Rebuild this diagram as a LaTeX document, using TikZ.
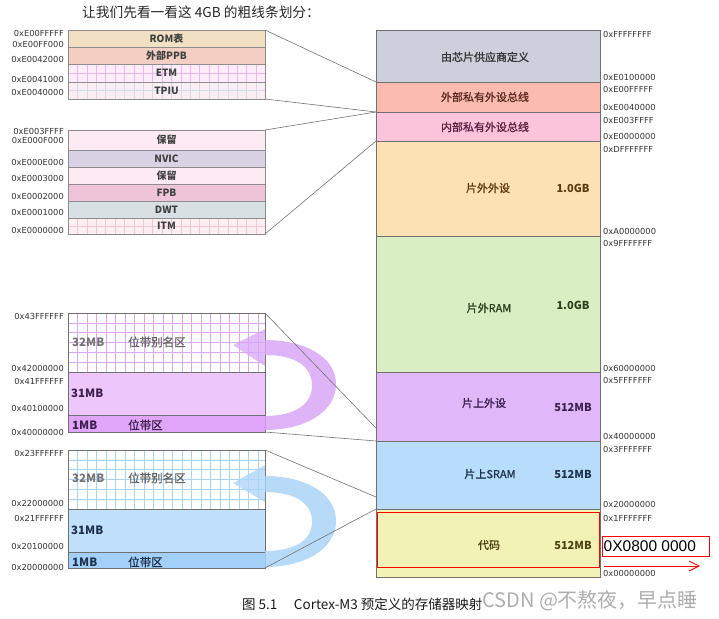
\documentclass[tikz,border=0pt]{standalone}
\usepackage{fontspec}
\setmainfont{Noto Sans CJK SC}
\newfontfamily\medfont{Noto Sans CJK SC}[FakeBold=1.2]
\newfontfamily\addrfont{DejaVu Sans}
\newfontfamily\redfont{Liberation Sans}
\usetikzlibrary{arrows.meta}
\definecolor{cVend}{HTML}{CDD0DC}
\definecolor{cExt}{HTML}{FBBCAF}
\definecolor{cInt}{HTML}{FCC4DA}
\definecolor{cOffP}{HTML}{FCE1B4}
\definecolor{cRam}{HTML}{D9EFC3}
\definecolor{cOnP}{HTML}{E0B8F9}
\definecolor{cSram}{HTML}{B8DCFB}
\definecolor{cCode}{HTML}{F2F2B7}
\definecolor{cRom}{HTML}{F1E0C3}
\definecolor{cEppb}{HTML}{F3CEC3}
\definecolor{cEtm}{HTML}{FDEDF8}
\definecolor{cEtmG}{HTML}{EDB8EE}
\definecolor{cTpiu}{HTML}{FBEEF2}
\definecolor{cTpiuG}{HTML}{D3DAE8}
\definecolor{cRes}{HTML}{FDEAF3}
\definecolor{cNvic}{HTML}{D8D2E4}
\definecolor{cFpb}{HTML}{EFC4D8}
\definecolor{cDwt}{HTML}{D8E0E4}
\definecolor{cItm}{HTML}{FDEEF2}
\definecolor{cItmG}{HTML}{EFC6D6}
\definecolor{cPG}{HTML}{DDA8F7}
\definecolor{cP31}{HTML}{EDC6FC}
\definecolor{cP1}{HTML}{E0A5F8}
\definecolor{cPArr}{HTML}{D9A6F7}
\definecolor{cBG}{HTML}{A8D4F8}
\definecolor{cB31}{HTML}{C0E0FC}
\definecolor{cB1}{HTML}{A3D0F8}
\definecolor{cBArr}{HTML}{ABD4F8}
\definecolor{cLine}{HTML}{707070}
\newcommand\gridfill[7]{%
  \begin{scope}
    \clip (#1,#2) rectangle (#3,#4);
    \foreach \i in {1,...,30} {\draw[#7, line width=0.6pt] ({#1+\i*#5},#2) -- ({#1+\i*#5},#4);}
    \foreach \j in {1,...,10} {\draw[#7, line width=0.6pt] (#1,{#2+\j*#6}) -- (#3,{#2+\j*#6});}
  \end{scope}}
\begin{document}
\begin{tikzpicture}[x=1pt,y=-1pt,
  reg/.style={draw=cLine, line width=0.6pt, anchor=north west, inner sep=0pt, outer sep=0pt},
  lbox/.style={draw=cLine!80, line width=0.6pt, anchor=north west, inner sep=0pt, outer sep=0pt, minimum width=197},
  ltxt/.style={font=\bfseries\fontsize{10}{10}\selectfont, text=black!75},
  addrR/.style={anchor=west, inner sep=0pt, font=\addrfont\fontsize{8.3}{8.3}\selectfont, text=black!80},
  addrL/.style={anchor=east, inner sep=0pt, font=\addrfont\fontsize{8.3}{8.3}\selectfont, text=black!80},
  mtxt/.style={font=\medfont\fontsize{11}{11}\selectfont},
  mbold/.style={font=\bfseries\fontsize{11}{11}\selectfont},
  conn/.style={draw=black!55, line width=0.6pt}]
\useasboundingbox (0,0) rectangle (719,618);

% title
\node[anchor=west, inner sep=0pt, font=\fontsize{13.7}{13.7}\selectfont, text=black!85] (title) at (82,12) {让我们先看一看这 4GB 的粗线条划分：};

% ---------- main column ----------
\node[reg, fill=cVend, minimum width=224, minimum height=52] (vend) at (376,30) {};
\node[reg, fill=cExt, minimum width=224, minimum height=30] (ext) at (376,82) {};
\node[reg, fill=cInt, minimum width=224, minimum height=29] (int) at (376,112) {};
\node[reg, fill=cOffP, minimum width=224, minimum height=95] (offp) at (376,141) {};
\node[reg, fill=cRam, minimum width=224, minimum height=136] (ram) at (376,236) {};
\node[reg, fill=cOnP, minimum width=224, minimum height=69] (onp) at (376,372) {};
\node[reg, fill=cSram, minimum width=224, minimum height=68] (sram) at (376,441) {};
\node[reg, fill=cCode, minimum width=224, minimum height=68] (code) at (376,509) {};
\node[draw=red, line width=1pt, anchor=north west, inner sep=0pt, minimum width=222, minimum height=55] (redbox) at (377,512) {};

\node[mtxt, text=black!80] (tvend) at (485,57) {由芯片供应商定义};
\node[mtxt, text={rgb,255:red,92;green,43;blue,34}] (text) at (485,97) {外部私有外设总线};
\node[mtxt, text={rgb,255:red,90;green,35;blue,64}] (tint) at (485,127) {内部私有外设总线};
\node[mtxt, text={rgb,255:red,90;green,59;blue,16}] (toffp) at (488,188) {片外外设};
\node[mbold, text={rgb,255:red,90;green,59;blue,16}] (soffp) at (573,188) {1.0GB};
\node[mtxt, text={rgb,255:red,44;green,63;blue,26}] (tram) at (489,308) {片外RAM};
\node[mbold, text={rgb,255:red,44;green,63;blue,26}] (sram2) at (573,305) {1.0GB};
\node[mtxt, text={rgb,255:red,60;green,31;blue,79}] (tonp) at (484,403) {片上外设};
\node[mbold, text={rgb,255:red,60;green,31;blue,79}] (sonp) at (573,407) {512MB};
\node[mtxt, text={rgb,255:red,29;green,52;blue,78}] (tsram) at (490,474) {片上SRAM};
\node[mbold, text={rgb,255:red,29;green,52;blue,78}] (ssram) at (573,474) {512MB};
\node[mtxt, text={rgb,255:red,75;green,67;blue,16}] (tcode) at (489,545) {代码};
\node[mbold, text={rgb,255:red,75;green,67;blue,16}] (scode) at (573,545) {512MB};

% right addresses
\node[addrR] (r1) at (603,34) {0xFFFFFFFF};
\node[addrR] (r2) at (603,77) {0xE0100000};
\node[addrR] (r3) at (603,89) {0xE00FFFFF};
\node[addrR] (r4) at (603,107) {0xE0040000};
\node[addrR] (r5) at (603,120) {0xE003FFFF};
\node[addrR] (r6) at (603,136) {0xE0000000};
\node[addrR] (r7) at (603,149) {0xDFFFFFFF};
\node[addrR] (r8) at (603,231) {0xA0000000};
\node[addrR] (r9) at (603,243) {0x9FFFFFFF};
\node[addrR] (r10) at (603,368) {0x60000000};
\node[addrR] (r11) at (603,380) {0x5FFFFFFF};
\node[addrR] (r12) at (603,436) {0x40000000};
\node[addrR] (r13) at (603,449) {0x3FFFFFFF};
\node[addrR] (r14) at (603,504) {0x20000000};
\node[addrR] (r15) at (603,518) {0x1FFFFFFF};
\node[addrR] (r16) at (603,573) {0x00000000};

\node[draw=red, line width=1pt, anchor=north west, inner sep=0pt, minimum width=107, minimum height=20] (addrbox) at (602,536) {};
\node[anchor=west, inner sep=0pt, font=\redfont\fontsize{15.5}{15.5}\selectfont, text=black] (addrtxt) at (603.5,546) {0X0800 0000};
\coordinate (arrs) at (604,566);
\coordinate (arre) at (700,566);
\draw[red, line width=0.8pt, -{Straight Barb[length=10pt,width=10pt]}] (arrs) -- (arre);

% ---------- left group 1 ----------
\node[lbox, fill=cRom, minimum height=17] (rom) at (68,30) {};
\node[lbox, fill=cEppb, minimum height=17] (eppb) at (68,47) {};
\node[lbox, fill=cEtm, minimum height=18] (etm) at (68,64) {};
\node[lbox, fill=cTpiu, minimum height=17] (tpiu) at (68,82) {};
\gridfill{68}{64}{265}{82}{9.4}{9}{cEtmG}
\gridfill{68}{82}{265}{99}{9.4}{8.5}{cTpiuG}
\draw[cLine!80, line width=0.6pt] (etm.north west) rectangle (tpiu.south east);
\draw[cLine!80, line width=0.6pt] (tpiu.north west) -- (tpiu.north east);
\node[ltxt] (trom) at (166.5,38.5) {ROM表};
\node[ltxt] (teppb) at (166.5,55.5) {外部PPB};
\node[ltxt] (tetm) at (166.5,73) {ETM};
\node[ltxt] (ttpiu) at (166.5,90.5) {TPIU};
\node[addrL] (l1) at (64,33) {0xE00FFFFF};
\node[addrL] (l2) at (64,44) {0xE00FF000};
\node[addrL] (l3) at (64,59) {0xE0042000};
\node[addrL] (l4) at (64,79) {0xE0041000};
\node[addrL] (l5) at (64,92) {0xE0040000};

% ---------- left group 2 ----------
\node[lbox, fill=cRes, minimum height=20] (res1) at (68,130) {};
\node[lbox, fill=cNvic, minimum height=17] (nvic) at (68,150) {};
\node[lbox, fill=cRes, minimum height=17] (res2) at (68,167) {};
\node[lbox, fill=cFpb, minimum height=17] (fpb) at (68,184) {};
\node[lbox, fill=cDwt, minimum height=17] (dwt) at (68,201) {};
\node[lbox, fill=cItm, minimum height=16] (itm) at (68,218) {};
\gridfill{68}{218}{265}{234}{9.4}{8}{cItmG}
\draw[cLine!80, line width=0.6pt] (itm.north west) rectangle (itm.south east);
\node[ltxt] (tres1) at (166.5,140) {保留};
\node[ltxt] (tnvic) at (166.5,158.5) {NVIC};
\node[ltxt] (tres2) at (166.5,175.5) {保留};
\node[ltxt] (tfpb) at (166.5,192.5) {FPB};
\node[ltxt] (tdwt) at (166.5,209.5) {DWT};
\node[ltxt] (titm) at (166.5,226) {ITM};
\node[addrL] (l6) at (64,131) {0xE003FFFF};
\node[addrL] (l7) at (64,140) {0xE000F000};
\node[addrL] (l8) at (64,162) {0xE000E000};
\node[addrL] (l9) at (64,178) {0xE0003000};
\node[addrL] (l10) at (64,196) {0xE0002000};
\node[addrL] (l11) at (64,212) {0xE0001000};
\node[addrL] (l12) at (64,230) {0xE0000000};

% ---------- purple bit-band ----------
\node[lbox, fill=white, minimum height=59] (palias) at (68,313) {};
\gridfill{68}{313}{265}{372}{9.5}{9.8}{cPG}
\draw[cLine, line width=0.6pt] (palias.north west) rectangle (palias.south east);
\node[lbox, draw=cLine, fill=cP31, minimum height=43] (p31) at (68,372) {};
\node[lbox, draw=cLine, fill=cP1, minimum height=17] (p1) at (68,415) {};
\node[anchor=west, inner sep=0pt, font=\bfseries\fontsize{11.5}{11.5}\selectfont, text=black!55] (pt32) at (72,342) {32MB};
\node[anchor=west, inner sep=0pt, font=\medfont\fontsize{11.5}{11.5}\selectfont, text=black!60] (ptal) at (128,342) {位带别名区};
\node[anchor=west, inner sep=0pt, font=\bfseries\fontsize{11.5}{11.5}\selectfont, text={rgb,255:red,60;green,30;blue,75}] (pt31) at (71,393) {31MB};
\node[anchor=west, inner sep=0pt, font=\bfseries\fontsize{11.5}{11.5}\selectfont, text={rgb,255:red,60;green,30;blue,75}] (pt1) at (72,425) {1MB};
\node[anchor=west, inner sep=0pt, font=\medfont\fontsize{11.5}{11.5}\selectfont, text={rgb,255:red,60;green,30;blue,75}] (ptbb) at (128,425) {位带区};
\node[addrL] (l13) at (64,316) {0x43FFFFFF};
\node[addrL] (l14) at (64,368) {0x42000000};
\node[addrL] (l15) at (64,381) {0x41FFFFFF};
\node[addrL] (l16) at (64,408) {0x40100000};
\node[addrL] (l17) at (64,432) {0x40000000};
% purple arrow
\fill[cPArr, opacity=0.85] (265,340) .. controls (305,340) and (336,357) .. (336,384)
  .. controls (336,412) and (305,430) .. (265,430) -- (265,416)
  .. controls (295,416) and (312,404) .. (312,386)
  .. controls (312,366) and (295,355) .. (265,355) -- cycle;
\fill[cPArr, opacity=0.75] (233,345) -- (265,329) -- (265,366) -- cycle;

% ---------- blue bit-band ----------
\node[lbox, fill=white, minimum height=59] (balias) at (68,450) {};
\gridfill{68}{450}{265}{509}{9.5}{9.8}{cBG}
\draw[cLine, line width=0.6pt] (balias.north west) rectangle (balias.south east);
\node[lbox, draw=cLine, fill=cB31, minimum height=43] (b31) at (68,509) {};
\node[lbox, draw=cLine, fill=cB1, minimum height=16] (b1) at (68,552) {};
\node[anchor=west, inner sep=0pt, font=\bfseries\fontsize{11.5}{11.5}\selectfont, text=black!55] (bt32) at (72,478) {32MB};
\node[anchor=west, inner sep=0pt, font=\medfont\fontsize{11.5}{11.5}\selectfont, text=black!60] (btal) at (128,478) {位带别名区};
\node[anchor=west, inner sep=0pt, font=\bfseries\fontsize{11.5}{11.5}\selectfont, text={rgb,255:red,28;green,48;blue,75}] (bt31) at (71,530) {31MB};
\node[anchor=west, inner sep=0pt, font=\bfseries\fontsize{11.5}{11.5}\selectfont, text={rgb,255:red,28;green,48;blue,75}] (bt1) at (72,562) {1MB};
\node[anchor=west, inner sep=0pt, font=\medfont\fontsize{11.5}{11.5}\selectfont, text={rgb,255:red,28;green,48;blue,75}] (btbb) at (128,562) {位带区};
\node[addrL] (l18) at (64,453) {0x23FFFFFF};
\node[addrL] (l19) at (64,503) {0x22000000};
\node[addrL] (l20) at (64,518) {0x21FFFFFF};
\node[addrL] (l21) at (64,546) {0x20100000};
\node[addrL] (l22) at (64,567) {0x20000000};
% blue arrow
\fill[cBArr, opacity=0.85] (265,476) .. controls (305,476) and (336,493) .. (336,521)
  .. controls (336,549) and (305,567) .. (265,567) -- (265,551)
  .. controls (295,551) and (312,540) .. (312,522)
  .. controls (312,503) and (295,492) .. (265,492) -- cycle;
\fill[cBArr, opacity=0.75] (233,483) -- (265,465) -- (265,502) -- cycle;

% ---------- connectors ----------
\coordinate (pa) at (376,428);
\coordinate (ba) at (376,497);
\draw[conn] (rom.north east) -- (vend.south west);
\draw[conn] (tpiu.south east) -- (ext.south west);
\draw[conn] (res1.north east) -- (ext.south west);
\draw[conn] (itm.south east) -- (int.south west);
\draw[conn] (palias.north east) -- (pa);
\draw[conn] (p1.south east) -- (onp.south west);
\draw[conn] (balias.north east) -- (ba);
\draw[conn] (b1.south east) -- (sram.south west);

% ---------- caption ----------
\node[anchor=west, inner sep=0pt, font=\fontsize{13.5}{13.5}\selectfont, text=black!90] (cap) at (242,604) {图 5.1\quad\ Cortex-M3 预定义的存储器映射};
\node[anchor=west, inner sep=0pt, font=\fontsize{20}{20}\selectfont, text=black!40, opacity=0.8] (wm) at (482,601) {CSDN @不熬夜，早点睡};
\end{tikzpicture}
\end{document}
